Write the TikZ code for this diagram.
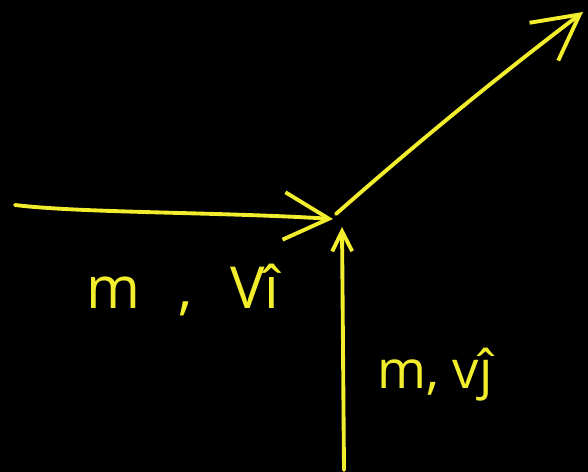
\documentclass[tikz,border=0pt]{standalone}
\usepackage{fontspec}
\setmainfont{Open Sans}
\usetikzlibrary{arrows.meta,positioning}
\definecolor{board}{HTML}{000000}
\definecolor{chalk}{HTML}{F2EE2E}
\tikzset{vec/.style={line width=2.2pt,draw=chalk,line cap=round},
  bigbarb/.style={-{Straight Barb[length=9mm,width=9.5mm,line width=2.2pt]}},
  smallbarb/.style={-{Straight Barb[length=4mm,width=4mm,line width=2.2pt]}},
  lbl/.style={text=chalk,inner sep=0pt}}
\begin{document}
\begin{tikzpicture}[x=0.02cm,y=-0.02cm]
\fill[board] (0,0) rectangle (588,472);
\coordinate (start) at (15,205);
\coordinate (hit) at (333,219);
\coordinate (base) at (344,470);
\coordinate (vtip) at (342,227);
\coordinate (out) at (583,12);
\draw[vec,bigbarb] (start) .. controls (80,213) and (220,212) .. (hit);
\draw[vec,smallbarb] (base) -- (vtip);
\draw[vec,bigbarb] (336,214) .. controls (420,140) and (500,75) .. (out);
\node[lbl,font=\fontsize{33}{36}\selectfont] (first) at (183,290) {m\hspace{0.65em},\hspace{0.65em}Vî};
\node[lbl,font=\fontsize{30}{33}\selectfont] (second) at (435,375) {m, vĵ};
\end{tikzpicture}
\end{document}
